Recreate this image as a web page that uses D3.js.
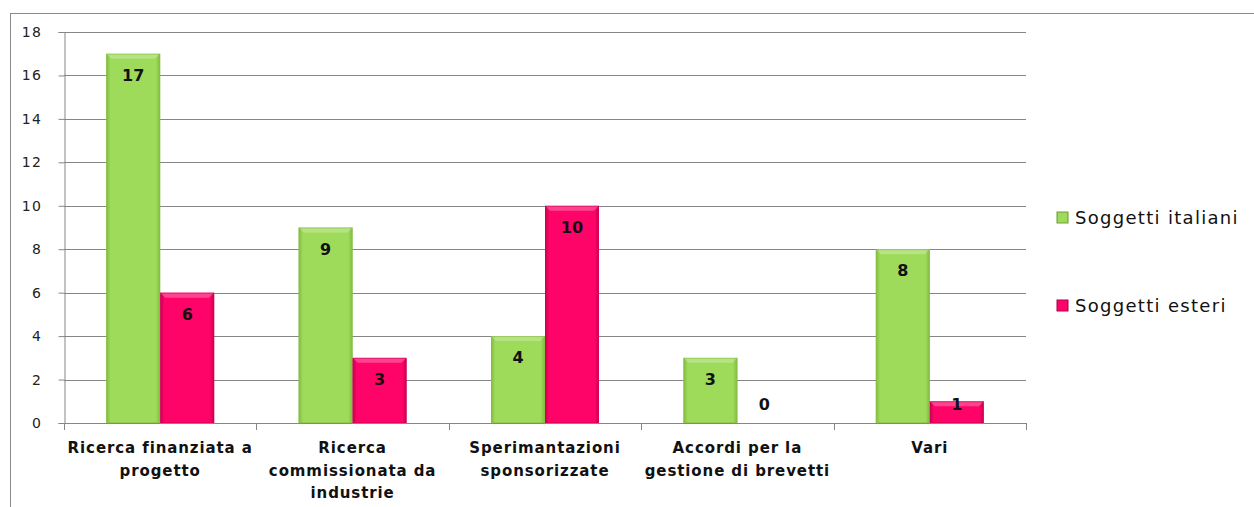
<!DOCTYPE html>
<html><head><meta charset="utf-8">
<script src="https://cdn.jsdelivr.net/npm/d3@7"></script>
<style>body{margin:0;background:#fff}svg{display:block}</style>
</head><body>
<svg id="c" width="1254" height="507"></svg>
<script>
const categories = [["Ricerca finanziata a","progetto"],["Ricerca","commissionata da","industrie"],["Sperimantazioni","sponsorizzate"],["Accordi per la","gestione di brevetti"],["Vari"]];
const seriesNames = ["Soggetti italiani","Soggetti esteri"];
const italiani = [17,9,4,3,8];
const esteri = [6,3,10,0,1];
const yTicks = [0,2,4,6,8,10,12,14,16,18];

const svg = d3.select("#c");
const L=64,R=1026,T=32,B=423;
const x = d3.scaleBand().domain(d3.range(categories.length)).range([L,R]).paddingInner(0).paddingOuter(0);
const y = d3.scaleLinear().domain([0,18]).range([B,T]);
const barW = 54;

const defs = svg.append("defs");
function grad(id, edge, mid){
  const g = defs.append("linearGradient").attr("id",id).attr("x1","0").attr("x2","1").attr("y1","0").attr("y2","0");
  g.append("stop").attr("offset","0").attr("stop-color",edge);
  g.append("stop").attr("offset","0.08").attr("stop-color",mid);
  g.append("stop").attr("offset","0.92").attr("stop-color",mid);
  g.append("stop").attr("offset","1").attr("stop-color",edge);
}
grad("gG","#7fba3e","#9fdb5a");
grad("gP","#c8004f","#ff0468");

// outer frame
svg.append("line").attr("x1",10.5).attr("x2",10.5).attr("y1",13).attr("y2",507).attr("stroke","#8a8a8a");
svg.append("line").attr("x1",10).attr("x2",1254).attr("y1",13.5).attr("y2",13.5).attr("stroke","#8a8a8a");

// gridlines
svg.append("g").selectAll("line").data(yTicks.filter(d=>d>0)).join("line")
  .attr("x1",L).attr("x2",R).attr("y1",d=>Math.round(y(d))+0.5).attr("y2",d=>Math.round(y(d))+0.5)
  .attr("stroke","#868686");

// y axis
const ya = svg.append("g").attr("transform",`translate(${L+0.5},0)`)
  .call(d3.axisLeft(y).tickValues(yTicks).tickSize(6).tickPadding(16).tickFormat(d3.format("d")));
ya.select(".domain").attr("stroke","#868686");
ya.selectAll(".tick line").attr("stroke","#868686");
ya.selectAll("text").attr("font-family","DejaVu Sans").attr("font-size",14).attr("letter-spacing",1.5).attr("fill","#222");

// x axis
svg.append("line").attr("x1",L).attr("x2",R).attr("y1",B+0.5).attr("y2",B+0.5).attr("stroke","#868686");
svg.append("g").selectAll("line").data(d3.range(categories.length+1)).join("line")
  .attr("x1",i=>Math.round(L+i*x.bandwidth())+0.5).attr("x2",i=>Math.round(L+i*x.bandwidth())+0.5)
  .attr("y1",B).attr("y2",B+7).attr("stroke","#868686");

// bars
const series = [{vals:italiani,fill:"url(#gG)",stroke:"#86c046",off:-barW},{vals:esteri,fill:"url(#gP)",stroke:"#d0005a",off:0}];
series.forEach(s=>{
  const g = svg.append("g");
  s.vals.forEach((v,i)=>{
    if(v<=0) return;
    const cx = x(i)+x.bandwidth()/2;
    const x0 = cx+s.off, y0=y(v), h=B-y0;
    g.append("rect").attr("x",x0).attr("y",y0).attr("width",barW).attr("height",h).attr("fill",s.fill);
    g.append("path").attr("d",`M${x0},${y0}L${x0+barW},${y0}L${x0+barW-5},${y0+5}L${x0+5},${y0+5}Z`).attr("fill","#fff").attr("opacity",0.25);
    g.append("rect").attr("x",x0+0.5).attr("y",y0+0.5).attr("width",barW-1).attr("height",h-1).attr("fill","none").attr("stroke",s.stroke).attr("stroke-opacity",0.6);
  });
});

// data labels
[italiani,esteri].forEach((vals,si)=>{
  svg.append("g").selectAll("text").data(vals).join("text")
    .attr("x",(v,i)=>x(i)+x.bandwidth()/2+(si===0?-barW/2:barW/2))
    .attr("y",v=>Math.min(y(v)+27,B-13))
    .attr("text-anchor","middle").attr("font-family","DejaVu Sans").attr("font-weight","bold")
    .attr("font-size",16).attr("fill","#111").text(v=>v);
});

// category labels
const cl = svg.append("g");
categories.forEach((lines,i)=>{
  const t = cl.append("text").attr("x",x(i)+x.bandwidth()/2).attr("y",453)
    .attr("text-anchor","middle").attr("font-family","DejaVu Sans").attr("font-weight","bold")
    .attr("font-size",15).attr("letter-spacing",0.9).attr("fill","#111");
  lines.forEach((ln,j)=>t.append("tspan").attr("x",x(i)+x.bandwidth()/2).attr("y",453+j*22.5).text(ln));
});

// legend
const lg = svg.append("g");
const legY=[217,305];
seriesNames.forEach((n,i)=>{
  lg.append("rect").attr("x",1057).attr("y",legY[i]-5).attr("width",11).attr("height",11)
    .attr("fill",i===0?"url(#gG)":"url(#gP)").attr("stroke",i===0?"#6ea034":"#b0004a");
  lg.append("text").attr("x",1075).attr("y",legY[i]+7).attr("font-family","DejaVu Sans")
    .attr("font-size",18).attr("letter-spacing",1.3).attr("fill","#111").text(n);
});
</script>
</body></html>
